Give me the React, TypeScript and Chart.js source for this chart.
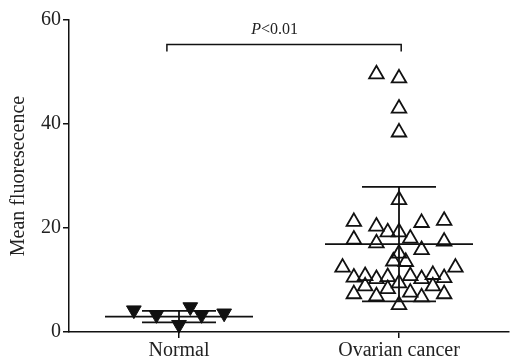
import React, { useEffect, useRef } from "react";
import { Chart, registerables } from "chart.js";

Chart.register(...registerables);

// ---- data ----
const categories = ["Normal", "Ovarian cancer"];
const categoryCenters = [0.5, 1.5];
const slotStep = 0.0513; // jitter slot width in x units

const normalSlots = [-4, -2, 0, 1, 2, 4];
const normalValues = [4.2, 3.3, 1.4, 4.8, 3.3, 3.6];

const ovarianSlots = [
  -2, 0, 0, 0, 0,
  -4, -2, 2, 4,
  -1, 0,
  -4, -2, 1, 4,
  2, 0,
  -0.5, 0.6,
  -5, 5,
  -4, -3, -2, -1, 0, 1, 2, 3, 4,
  -3, -1, 3,
  -4, -2, 1, 2, 4,
  0,
];
const ovarianValues = [
  49.6, 48.8, 43.0, 38.4, 25.4,
  21.2, 20.3, 21.0, 21.4,
  19.2, 19.2,
  17.8, 17.1, 18.0, 17.4,
  15.8, 15.1,
  13.6, 13.5,
  12.4, 12.4,
  10.5, 10.8, 10.2, 10.6, 9.4, 10.8, 10.2, 11.0, 10.4,
  8.8, 8.3, 8.8,
  7.3, 6.9, 7.6, 6.7, 7.3,
  5.2,
];

const groupMeans = [2.95, 16.9];
const groupSD = [1.1, 11.0];

const yTicks = [0, 20, 40, 60];
const bracketX = [0.445, 1.51];
const bracketY = 55.3;
const pLabelX = 0.935;
const pLabelItalic = "P";
const pLabelRest = "<0.01";
const yTitle = "Mean fluoresecence";

const FONT = "'Liberation Serif', 'Times New Roman', serif";
const INK = "#111";

const overlayPlugin = {
  id: "overlay",
  afterDatasetsDraw(chart: any) {
    const { ctx, scales } = chart;
    const x = scales.x;
    const y = scales.y;
    ctx.save();
    ctx.strokeStyle = INK;
    ctx.lineWidth = 1.8;
    ctx.lineCap = "butt";
    groupMeans.forEach((m: number, i: number) => {
      const cx = x.getPixelForValue(categoryCenters[i]);
      const ym = y.getPixelForValue(m);
      const yHi = y.getPixelForValue(m + groupSD[i]);
      const yLo = y.getPixelForValue(m - groupSD[i]);
      ctx.beginPath();
      ctx.moveTo(cx - 74, ym);
      ctx.lineTo(cx + 74, ym);
      ctx.moveTo(cx - 37, yHi);
      ctx.lineTo(cx + 37, yHi);
      ctx.moveTo(cx - 37, yLo);
      ctx.lineTo(cx + 37, yLo);
      ctx.moveTo(cx, yHi);
      ctx.lineTo(cx, yLo);
      ctx.stroke();
    });
    // significance bracket
    const xl = x.getPixelForValue(bracketX[0]);
    const xr = x.getPixelForValue(bracketX[1]);
    const yb = y.getPixelForValue(bracketY);
    ctx.lineWidth = 1.5;
    ctx.beginPath();
    ctx.moveTo(xl, yb + 7);
    ctx.lineTo(xl, yb);
    ctx.lineTo(xr, yb);
    ctx.lineTo(xr, yb + 7);
    ctx.stroke();
    // label
    ctx.fillStyle = "#222";
    ctx.textBaseline = "alphabetic";
    ctx.font = `italic 16px ${FONT}`;
    const w1 = ctx.measureText(pLabelItalic).width;
    ctx.font = `16px ${FONT}`;
    const w2 = ctx.measureText(pLabelRest).width;
    const cx = x.getPixelForValue(pLabelX);
    const start = cx - (w1 + w2) / 2;
    const by = yb - 10;
    ctx.font = `italic 16px ${FONT}`;
    ctx.fillText(pLabelItalic, start, by);
    ctx.font = `16px ${FONT}`;
    ctx.fillText(pLabelRest, start + w1, by);
    ctx.restore();
  },
};

export default function App() {
  const ref = useRef<HTMLCanvasElement | null>(null);
  useEffect(() => {
    if (!ref.current) return;
    const normalData = normalValues.map((v, i) => ({
      x: categoryCenters[0] + normalSlots[i] * slotStep,
      y: v,
    }));
    const ovarianData = ovarianValues.map((v, i) => ({
      x: categoryCenters[1] + ovarianSlots[i] * slotStep,
      y: v,
    }));
    const chart = new Chart(ref.current, {
      type: "scatter",
      data: {
        datasets: [
          {
            label: categories[0],
            data: normalData,
            pointStyle: "triangle",
            rotation: 180,
            pointRadius: 8.5,
            backgroundColor: INK,
            borderColor: INK,
            borderWidth: 1,
            clip: false,
          },
          {
            label: categories[1],
            data: ovarianData,
            pointStyle: "triangle",
            pointRadius: 8.4,
            backgroundColor: "rgba(0,0,0,0)",
            borderColor: INK,
            borderWidth: 1.8,
            clip: false,
          },
        ],
      },
      options: {
        responsive: false,
        animation: false,
        devicePixelRatio: 1,
        layout: { autoPadding: false, padding: { top: 20, right: 1, bottom: -6, left: 9 } },
        plugins: {
          legend: { display: false },
          tooltip: { enabled: false },
        },
        scales: {
          x: {
            type: "linear",
            min: 0,
            max: 2,
            afterBuildTicks: (axis: any) => {
              axis.ticks = categoryCenters.map((v) => ({ value: v }));
            },
            ticks: {
              autoSkip: false,
              maxRotation: 0,
              padding: 3,
              color: "#222",
              font: { family: FONT, size: 20, lineHeight: 1 },
              callback: (v: any) => categories[categoryCenters.indexOf(Number(v))] ?? "",
            },
            grid: {
              display: true,
              drawOnChartArea: false,
              drawTicks: true,
              tickLength: 6,
              color: INK,
              lineWidth: 1.5,
            },
            border: { display: true, color: INK, width: 1.5 },
          },
          y: {
            type: "linear",
            min: 0,
            max: 60,
            afterBuildTicks: (axis: any) => {
              axis.ticks = yTicks.map((v) => ({ value: v }));
            },
            ticks: {
              padding: 2,
              color: "#222",
              font: { family: FONT, size: 20, lineHeight: 1 },
            },
            grid: {
              display: true,
              drawOnChartArea: false,
              drawTicks: true,
              tickLength: 6,
              color: INK,
              lineWidth: 1.5,
            },
            border: { display: true, color: INK, width: 1.5 },
            title: {
              display: true,
              text: yTitle,
              color: "#222",
              font: { family: FONT, size: 20, lineHeight: 1 },
              padding: { top: 0, bottom: 10 },
            },
          },
        },
      },
      plugins: [overlayPlugin],
    });
    return () => chart.destroy();
  }, []);
  return (
    <div style={{ position: "fixed", left: 0, top: 0, width: 510, height: 358, background: "#fff" }}>
      <canvas ref={ref} width={510} height={358} />
    </div>
  );
}
